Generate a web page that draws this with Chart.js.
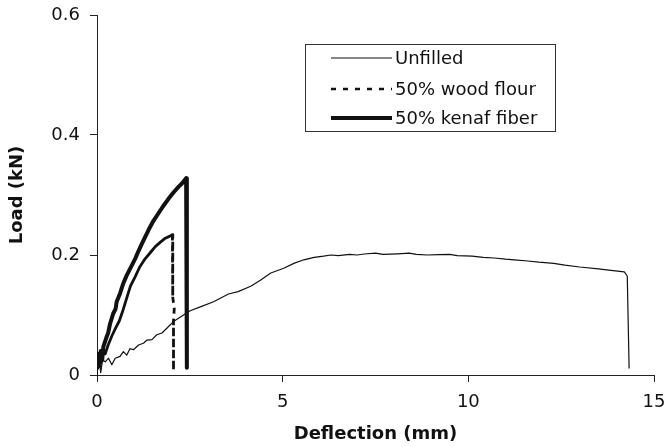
<!DOCTYPE html>
<html>
<head>
<meta charset="utf-8">
<title>Load vs deflection</title>
<script src="https://cdn.jsdelivr.net/npm/chart.js@4.4.1/dist/chart.umd.min.js"></script>
<style>
  body { margin: 0; background: #fff; }
  canvas { display: block; }
</style>
</head>
<body>
<canvas id="loadChart" width="668" height="447"></canvas>
<script>
// Load-deflection curves (deflection in mm, load in kN)
const unfilledDefl = [0, 0.05, 0.1, 0.15, 0.22, 0.31, 0.4, 0.49, 0.62, 0.71, 0.8, 0.89, 0.98, 1.12, 1.25, 1.34, 1.48, 1.61, 1.75, 1.88,
    2.06, 2.33, 2.51, 2.8, 3.14, 3.54, 3.8, 4.14, 4.4, 4.68, 5.03, 5.3, 5.57, 5.85, 6.1, 6.3, 6.5, 6.8, 7.0, 7.2,
    7.5, 7.7, 8.1, 8.4, 8.6, 8.9, 9.2, 9.5, 9.7, 10.1, 10.4, 10.7, 11.0, 11.24, 11.6, 11.9, 12.3, 12.6, 13.0, 13.5,
    13.9, 14.2, 14.28, 14.33];
const unfilledLoad = [0, 0.03, 0.004, 0.025, 0.022, 0.028, 0.017, 0.028, 0.031, 0.039, 0.033, 0.044, 0.042, 0.05, 0.053, 0.058, 0.059, 0.067, 0.07, 0.078,
    0.089, 0.1, 0.107, 0.114, 0.122, 0.135, 0.139, 0.148, 0.158, 0.17, 0.178, 0.186, 0.192, 0.196, 0.198, 0.2, 0.199, 0.201, 0.2, 0.2017,
    0.203, 0.201, 0.202, 0.203, 0.201, 0.2, 0.2005, 0.201, 0.199, 0.198, 0.196, 0.195, 0.193, 0.192, 0.19, 0.188, 0.186, 0.183, 0.18, 0.177,
    0.174, 0.172, 0.165, 0.011];

const woodDefl = [0, 0.05, 0.1, 0.16, 0.22, 0.3, 0.4, 0.5, 0.6, 0.7, 0.8, 0.9, 1.03, 1.15, 1.3, 1.45, 1.57, 1.7, 1.84, 1.95,
    2.03, 2.04, 2.08, 2.06, 2.06];
const woodLoad = [0.01, 0.035, 0.02, 0.04, 0.035, 0.05, 0.065, 0.078, 0.09, 0.108, 0.128, 0.148, 0.164, 0.18, 0.194, 0.205, 0.214, 0.221, 0.228, 0.231,
    0.234, 0.13, 0.11, 0.09, 0.008];
const woodBreakIndex = 20; // sample after which the specimen failed

const kenafDefl = [0, 0.03, 0.06, 0.1, 0.14, 0.17, 0.25, 0.3, 0.35, 0.44, 0.5, 0.53, 0.62, 0.71, 0.8, 0.9, 1.03, 1.12, 1.21, 1.39,
    1.52, 1.66, 1.8, 1.93, 2.07, 2.2, 2.3, 2.4, 2.42];
const kenafLoad = [0.01, 0.035, 0.015, 0.04, 0.025, 0.047, 0.062, 0.07, 0.085, 0.103, 0.11, 0.122, 0.136, 0.153, 0.166, 0.178, 0.194, 0.207, 0.219, 0.242,
    0.257, 0.27, 0.283, 0.294, 0.305, 0.314, 0.32, 0.328, 0.012];

const seriesNames = ['Unfilled', '50% wood flour', '50% kenaf fiber'];
const xTicks = [0, 5, 10, 15];
const yTicks = [0, 0.2, 0.4, 0.6];

const FONT = "'DejaVu Sans', sans-serif";

function toPoints(xs, ys) {
    return xs.map((x, i) => ({ x: x, y: ys[i] }));
}

// Legend box drawn inside the plot area
const insideLegend = {
    id: 'insideLegend',
    afterDatasetsDraw(chart) {
        const ctx = chart.ctx;
        const box = { x: 305.5, y: 44.5, w: 250, h: 87 };
        const rows = [58, 89, 118];
        ctx.save();
        ctx.fillStyle = '#fff';
        ctx.fillRect(box.x, box.y, box.w, box.h);
        ctx.strokeStyle = '#333';
        ctx.lineWidth = 1;
        ctx.strokeRect(box.x, box.y, box.w, box.h);

        chart.data.datasets.forEach((ds, i) => {
            const y = rows[i];
            ctx.beginPath();
            ctx.strokeStyle = ds.borderColor;
            ctx.lineWidth = ds.legendWidth;
            ctx.setLineDash(ds.legendDash);
            ctx.moveTo(331, y);
            ctx.lineTo(392, y);
            ctx.stroke();
            ctx.setLineDash([]);

            ctx.fillStyle = '#111';
            ctx.font = '18px ' + FONT;
            ctx.textBaseline = 'middle';
            ctx.textAlign = 'left';
            ctx.fillText(ds.label, 395, y + 1);
        });
        ctx.restore();
    }
};

const ctx = document.getElementById('loadChart').getContext('2d');
new Chart(ctx, {
    type: 'line',
    data: {
        datasets: [{
            label: seriesNames[0],
            data: toPoints(unfilledDefl, unfilledLoad),
            borderColor: '#111',
            borderWidth: 1.2,
            legendWidth: 1.2,
            legendDash: []
        }, {
            label: seriesNames[1],
            data: toPoints(woodDefl, woodLoad),
            borderColor: '#111',
            borderWidth: 2.8,
            legendWidth: 2.5,
            legendDash: [5, 7],
            segment: {
                borderDash: c => c.p0DataIndex >= woodBreakIndex ? [6, 5] : undefined
            }
        }, {
            label: seriesNames[2],
            data: toPoints(kenafDefl, kenafLoad),
            borderColor: '#111',
            borderWidth: 4,
            legendWidth: 4,
            legendDash: []
        }]
    },
    options: {
        responsive: false,
        animation: false,
        devicePixelRatio: 1,
        elements: {
            point: { radius: 0, hoverRadius: 0 },
            line: { tension: 0, borderJoinStyle: 'round', fill: false }
        },
        layout: { padding: { left: 0, right: 14, top: 15, bottom: 0 } },
        plugins: {
            legend: { display: false },
            tooltip: { enabled: false }
        },
        scales: {
            x: {
                type: 'linear',
                min: 0,
                max: 15,
                afterFit: s => {
                    s.height = 72;
                    s.paddingLeft = 0;
                    s.paddingRight = 0;
                },
                afterBuildTicks: s => { s.ticks = xTicks.map(v => ({ value: v })); },
                ticks: {
                    color: '#111',
                    font: { family: FONT, size: 18 },
                    padding: 10,
                    callback: v => String(v)
                },
                grid: { drawOnChartArea: false, drawTicks: true, tickLength: 7, color: '#222' },
                border: { display: true, color: '#222', width: 1 },
                title: {
                    display: true,
                    text: 'Deflection (mm)',
                    color: '#111',
                    font: { family: FONT, size: 18, weight: 'bold' },
                    padding: { top: 0, bottom: 2 }
                }
            },
            y: {
                type: 'linear',
                min: 0,
                max: 0.6,
                afterFit: s => {
                    s.width = 97;
                    s.paddingTop = 0;
                    s.paddingBottom = 0;
                },
                afterBuildTicks: s => { s.ticks = yTicks.map(v => ({ value: v })); },
                ticks: {
                    color: '#111',
                    font: { family: FONT, size: 18 },
                    padding: 10,
                    callback: v => v === 0 ? '0' : v.toFixed(1)
                },
                grid: { drawOnChartArea: false, drawTicks: true, tickLength: 7, color: '#222' },
                border: { display: true, color: '#222', width: 1 },
                title: {
                    display: true,
                    text: 'Load (kN)',
                    color: '#111',
                    font: { family: FONT, size: 18, weight: 'bold' },
                    padding: { top: 7, bottom: 0 }
                }
            }
        }
    },
    plugins: [insideLegend]
});
</script>
</body>
</html>
